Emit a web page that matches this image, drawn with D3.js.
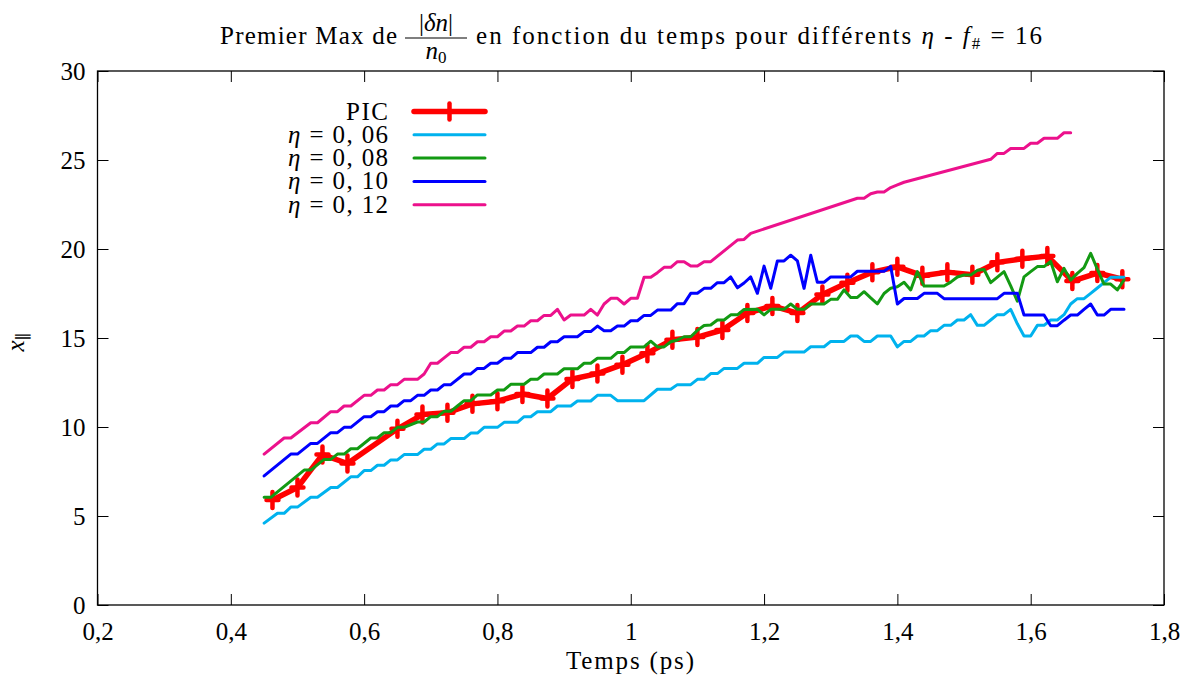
<!DOCTYPE html>
<html><head><meta charset="utf-8">
<script src="https://cdn.jsdelivr.net/npm/d3@7"></script>
<style>
body{margin:0;background:#fff}
svg{display:block}
text{font-family:"Liberation Serif","DejaVu Serif",serif;fill:#000}
</style>
</head><body>
<svg id="chart" width="1194" height="682"></svg>
<script>
// ---------- data ----------
const picT = [0.4625,0.5,0.5375,0.575,0.65,0.6875,0.725,0.7625,0.8,0.8375,0.875,0.9125,0.95,0.9875,1.025,1.0625,1.1,1.1375,1.175,1.2125,1.25,1.2875,1.325,1.3625,1.4,1.4375,1.475,1.5125,1.55,1.5875,1.625,1.6625,1.7,1.7375];
const picV = [5.9,6.6,8.45,7.95,9.9,10.7,10.8,11.3,11.45,11.85,11.6,12.7,13.0,13.5,14.15,14.9,15.05,15.45,16.4,16.8,16.4,17.45,18.1,18.7,19.0,18.5,18.7,18.55,19.25,19.45,19.6,18.2,18.65,18.3];

const eta06T = [0.45,0.47,0.48,0.49,0.50,0.52,0.53,0.55,0.56,0.58,0.59,0.60,0.61,0.62,0.63,0.64,0.65,0.66,0.68,0.69,0.70,0.71,0.72,0.73,0.75,0.76,0.77,0.78,0.80,0.81,0.83,0.84,0.85,0.86,0.88,0.89,0.91,0.92,0.94,0.95,0.97,0.98,1.02,1.04,1.06,1.07,1.09,1.10,1.11,1.12,1.13,1.14,1.16,1.17,1.19,1.20,1.22,1.23,1.26,1.27,1.29,1.30,1.32,1.33,1.34,1.35,1.36,1.37,1.39,1.40,1.41,1.42,1.43,1.44,1.45,1.46,1.47,1.48,1.49,1.50,1.51,1.52,1.53,1.54,1.55,1.56,1.57,1.58,1.59,1.60,1.61,1.62,1.63,1.64,1.65,1.66,1.67,1.68,1.69,1.70,1.71,1.72,1.74];
const eta06V = [4.6,5.15,5.15,5.5,5.5,6.05,6.05,6.6,6.6,7.2,7.2,7.55,7.55,7.85,7.85,8.15,8.15,8.45,8.45,8.75,8.75,9.05,9.05,9.35,9.35,9.66,9.66,9.98,9.98,10.26,10.26,10.58,10.58,10.86,10.86,11.18,11.18,11.46,11.46,11.78,11.78,11.48,11.48,12.12,12.12,12.38,12.38,12.68,12.68,13.0,13.0,13.29,13.29,13.58,13.58,13.91,13.91,14.21,14.21,14.51,14.51,14.81,14.81,15.11,15.11,14.81,14.81,15.11,15.11,14.5,14.81,14.81,15.11,15.11,15.41,15.41,15.71,15.71,16.01,16.01,16.31,15.71,15.71,16.01,16.31,16.31,16.61,15.8,15.11,15.11,15.71,15.71,16.01,16.01,16.31,16.91,17.21,17.21,17.51,17.81,18.11,18.41,18.41];

const eta08T = [0.45,0.46,0.51,0.52,0.54,0.55,0.56,0.57,0.58,0.59,0.61,0.62,0.63,0.64,0.65,0.66,0.68,0.69,0.70,0.71,0.72,0.73,0.74,0.75,0.76,0.77,0.79,0.80,0.81,0.82,0.84,0.85,0.86,0.87,0.89,0.90,0.92,0.93,0.94,0.95,0.97,0.98,0.99,1.00,1.02,1.03,1.04,1.05,1.06,1.07,1.08,1.09,1.10,1.11,1.12,1.13,1.14,1.15,1.16,1.17,1.19,1.20,1.21,1.23,1.24,1.25,1.26,1.27,1.29,1.30,1.31,1.32,1.33,1.34,1.35,1.36,1.37,1.38,1.39,1.40,1.41,1.42,1.43,1.44,1.47,1.48,1.49,1.50,1.51,1.52,1.53,1.54,1.56,1.57,1.58,1.59,1.60,1.61,1.62,1.63,1.64,1.65,1.66,1.67,1.68,1.69,1.70,1.71,1.72,1.73,1.74];
const eta08V = [6.05,6.05,7.58,7.58,8.18,8.18,8.48,8.48,8.78,8.78,9.38,9.38,9.68,9.68,9.98,9.98,10.28,10.28,10.58,10.58,10.88,10.88,11.18,11.48,11.48,11.8,11.8,12.08,12.08,12.4,12.4,12.68,12.68,12.98,12.98,13.27,13.27,13.58,13.58,13.86,13.86,14.18,14.18,14.5,14.5,14.82,14.5,14.5,14.79,14.89,15.07,15.07,15.43,15.7,15.73,16.01,16.01,16.3,16.3,16.6,16.61,16.3,16.61,16.61,16.91,16.61,16.61,16.91,16.91,17.17,17.17,17.7,17.28,17.28,17.6,17.25,16.92,17.5,17.8,17.88,18.13,17.7,18.73,17.92,17.92,18.14,18.43,18.54,18.54,18.8,18.85,18.11,18.73,17.93,17.07,18.43,18.73,19.01,19.01,19.3,18.16,18.91,18.25,18.63,18.96,19.76,18.87,18.03,18.03,17.7,18.26];

const eta10T = [0.45,0.49,0.50,0.52,0.53,0.55,0.56,0.57,0.58,0.60,0.61,0.62,0.63,0.64,0.65,0.66,0.67,0.68,0.69,0.70,0.71,0.72,0.73,0.75,0.76,0.77,0.78,0.79,0.80,0.81,0.82,0.83,0.85,0.86,0.87,0.88,0.89,0.90,0.92,0.93,0.94,0.95,0.96,0.97,0.98,0.99,1.00,1.01,1.02,1.03,1.04,1.06,1.07,1.08,1.09,1.10,1.11,1.12,1.13,1.14,1.15,1.16,1.17,1.18,1.19,1.20,1.21,1.22,1.23,1.24,1.25,1.26,1.27,1.28,1.29,1.30,1.33,1.34,1.38,1.39,1.40,1.41,1.43,1.44,1.46,1.47,1.55,1.56,1.58,1.59,1.62,1.63,1.64,1.65,1.66,1.67,1.68,1.69,1.70,1.71,1.72,1.74];
const eta10V = [7.25,8.48,8.48,9.08,9.08,9.68,9.68,9.98,9.98,10.58,10.58,10.86,10.86,11.18,11.18,11.48,11.48,11.78,11.78,12.08,12.08,12.38,12.38,12.98,12.98,13.29,13.29,13.58,13.58,13.86,13.86,14.18,14.18,14.48,14.48,14.79,14.79,15.07,15.07,15.36,15.36,15.67,15.41,15.41,15.67,15.67,15.97,15.97,16.27,16.27,16.57,16.57,16.93,16.93,17.51,17.51,17.79,17.79,18.11,18.11,18.43,17.82,18.09,18.43,17.51,19.04,17.79,19.33,19.33,19.65,19.33,17.79,19.65,18.13,18.13,18.43,18.43,18.75,18.75,19.02,16.91,17.22,17.22,17.51,17.51,17.21,17.21,17.51,17.51,16.29,16.29,15.69,15.69,16.0,16.29,16.29,16.61,16.91,16.29,16.29,16.61,16.61];

const eta12T = [0.45,0.48,0.49,0.52,0.53,0.55,0.56,0.57,0.58,0.60,0.61,0.62,0.63,0.64,0.65,0.66,0.68,0.69,0.70,0.71,0.72,0.73,0.74,0.75,0.76,0.77,0.78,0.79,0.80,0.81,0.82,0.83,0.84,0.85,0.86,0.87,0.88,0.89,0.90,0.91,0.93,0.94,0.95,0.96,0.97,0.98,0.99,1.00,1.01,1.02,1.03,1.04,1.05,1.06,1.07,1.08,1.09,1.10,1.11,1.12,1.16,1.17,1.18,1.34,1.35,1.36,1.37,1.38,1.39,1.40,1.41,1.54,1.55,1.56,1.57,1.59,1.60,1.61,1.62,1.64,1.65,1.66];
const eta12V = [8.48,9.38,9.38,10.24,10.24,10.86,10.86,11.18,11.18,11.78,11.78,12.08,12.08,12.38,12.38,12.68,12.68,12.98,13.58,13.58,13.88,14.18,14.18,14.48,14.48,14.79,14.79,15.07,15.07,15.39,15.39,15.67,15.67,15.97,15.97,16.27,16.27,16.61,16.01,16.29,16.29,16.61,16.29,16.91,17.23,17.23,16.91,17.23,17.23,18.41,18.41,18.67,18.97,18.97,19.29,19.29,19.04,19.04,19.29,19.29,20.5,20.54,20.88,22.85,22.85,23.1,23.2,23.2,23.45,23.6,23.75,25.04,25.37,25.37,25.65,25.65,25.94,25.94,26.22,26.22,26.53,26.53];

const seriesNames = ["PIC","η = 0, 06","η = 0, 08","η = 0, 10","η = 0, 12"];
const seriesColors = ["#ff0000","#00b2ee","#139a13","#0000ff","#ec118c"];
const xTicks = [0.2,0.4,0.6,0.8,1.0,1.2,1.4,1.6,1.8];
const xTickLabels = ["0,2","0,4","0,6","0,8","1","1,2","1,4","1,6","1,8"];
const yTicks = [0,5,10,15,20,25,30];

// ---------- layout ----------
const W = 1194, H = 682;
const m = {left:97.5, right:30, top:71, bottom:77};
const svg = d3.select("#chart");
const x = d3.scaleLinear().domain([0.2,1.8]).range([m.left, W-m.right]);
const y = d3.scaleLinear().domain([0,30]).range([H-m.bottom, m.top]);
const FS = 25;

const series = [
  {t:picT, v:picV},
  {t:eta06T, v:eta06V},
  {t:eta08T, v:eta08V},
  {t:eta10T, v:eta10V},
  {t:eta12T, v:eta12V}
].map((s,i)=>({name:seriesNames[i], color:seriesColors[i], pts:s.t.map((t,j)=>[t,s.v[j]])}));

// axes (ticks inward, mirrored)
const tickLen = 11;
const gx = svg.append("g").attr("transform",`translate(0,${H-m.bottom})`)
  .call(d3.axisBottom(x).tickValues(xTicks).tickFormat((d,i)=>xTickLabels[i]).tickSizeInner(-tickLen).tickSizeOuter(0).tickPadding(17));
const gy = svg.append("g").attr("transform",`translate(${m.left},0)`)
  .call(d3.axisLeft(y).tickValues(yTicks).tickFormat(d=>String(d)).tickSizeInner(-tickLen).tickSizeOuter(0).tickPadding(12));
const gt = svg.append("g").attr("transform",`translate(0,${m.top})`)
  .call(d3.axisTop(x).tickValues(xTicks).tickFormat("").tickSizeInner(-tickLen).tickSizeOuter(0));
const gr = svg.append("g").attr("transform",`translate(${W-m.right},0)`)
  .call(d3.axisRight(y).tickValues(yTicks).tickFormat("").tickSizeInner(-tickLen).tickSizeOuter(0));
[gx,gy,gt,gr].forEach(g=>{
  g.select(".domain").remove();
  g.selectAll(".tick line").attr("stroke","#000").attr("stroke-width",1);
  g.selectAll(".tick text").attr("font-size",FS).attr("font-family","Liberation Serif, serif").attr("fill","#000");
});

svg.append("rect").attr("x",m.left).attr("y",m.top)
  .attr("width",W-m.left-m.right).attr("height",H-m.top-m.bottom)
  .attr("fill","none").attr("stroke","#000").attr("stroke-width",1.3);

// lines
const line = d3.line().x(d=>x(d[0])).y(d=>y(d[1]));
const plot = svg.append("g");
series.forEach((s,i)=>{
  plot.append("path").datum(s.pts).attr("d",line)
    .attr("fill","none").attr("stroke",s.color)
    .attr("stroke-width", i===0?5.5:3).attr("stroke-linejoin","round").attr("stroke-linecap","round");
  if(i===0){
    const mk = plot.append("g");
    s.pts.forEach(p=>{
      mk.append("path").attr("d",`M${x(p[0])},${y(p[1])-8}V${y(p[1])+8}M${x(p[0])-6},${y(p[1])}H${x(p[0])+6}`)
        .attr("stroke",s.color).attr("stroke-width",4.5).attr("stroke-linecap","round");
    });
  }
});

// legend
const leg = svg.append("g");
const legY0 = 111.5, legDy = 23.3, legTextX = 388, legL1 = 414, legL2 = 485;
series.forEach((s,i)=>{
  const yy = legY0 + i*legDy;
  const t = leg.append("text").attr("x",legTextX).attr("y",yy+8).attr("text-anchor","end").attr("font-size",FS);
  if(i===0){ t.text(s.name).attr("textLength",42).attr("lengthAdjust","spacing"); }
  else {
    t.append("tspan").attr("font-style","italic").text("η");
    t.append("tspan").text(s.name.slice(1));
    t.attr("textLength",100).attr("lengthAdjust","spacing");
  }
  leg.append("line").attr("x1",legL1).attr("x2",legL2).attr("y1",yy).attr("y2",yy)
    .attr("stroke",s.color).attr("stroke-width", i===0?5.5:3).attr("stroke-linecap","round");
  if(i===0){
    const cx=(legL1+legL2)/2;
    leg.append("path").attr("d",`M${cx},${yy-8}V${yy+8}`).attr("stroke",s.color).attr("stroke-width",4.5).attr("stroke-linecap","round");
  }
});

// axis labels
svg.append("text").attr("x",630).attr("y",669).attr("text-anchor","middle")
  .attr("font-size",FS).attr("textLength",128).attr("lengthAdjust","spacing").text("Temps (ps)");
const yl = svg.append("text").attr("transform","translate(24,342) rotate(-90)").attr("text-anchor","middle").attr("font-size",FS);
yl.append("tspan").attr("font-style","italic").text("x");
yl.append("tspan").attr("font-size",17).attr("dy",5).text("∥");

// title with fraction
const title = svg.append("g");
const baseY = 44;
const p1 = title.append("text").attr("x",220).attr("y",baseY).attr("font-size",FS)
  .attr("textLength",177).attr("lengthAdjust","spacing").text("Premier Max de");
const fx1 = 405, fx2 = 467;
const num = title.append("text").attr("x",(fx1+fx2)/2).attr("y",31).attr("font-size",FS).attr("text-anchor","middle");
num.append("tspan").text("|");
num.append("tspan").attr("font-style","italic").text("δn");
num.append("tspan").text("|");
const den = title.append("text").attr("x",(fx1+fx2)/2).attr("y",59).attr("font-size",FS).attr("text-anchor","middle");
den.append("tspan").attr("font-style","italic").text("n");
den.append("tspan").attr("font-size",17).attr("dy",4).text("0");
title.append("line").attr("x1",fx1).attr("x2",fx2).attr("y1",38).attr("y2",38).attr("stroke","#000").attr("stroke-width",1.2);
const p2 = title.append("text").attr("x",476).attr("y",baseY).attr("font-size",FS);
p2.append("tspan").text("en fonction du temps pour différents ");
p2.append("tspan").attr("font-style","italic").text("η");
p2.append("tspan").text(" - ");
p2.append("tspan").attr("font-style","italic").text("f");
p2.append("tspan").attr("font-size",17).attr("dy",5).text("#");
p2.append("tspan").attr("dy",-5).text(" = 16");
p2.attr("textLength",566).attr("lengthAdjust","spacing");
</script>
</body></html>
